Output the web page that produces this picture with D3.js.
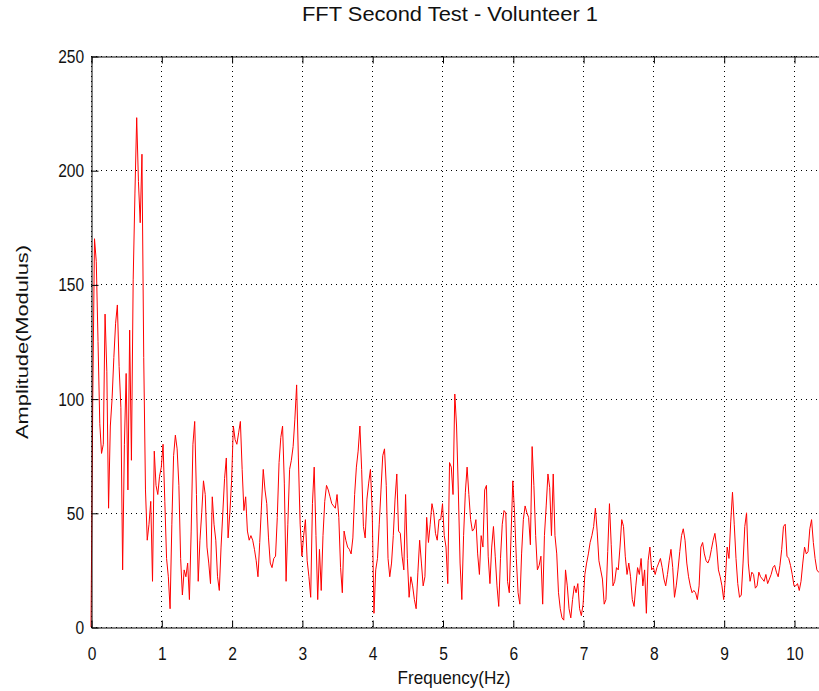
<!DOCTYPE html>
<html>
<head>
<meta charset="utf-8">
<script src="https://cdn.jsdelivr.net/npm/d3@7"></script>
<style>
    body { margin: 0; background: #fff; }
    text { font-family: "Liberation Sans", Arial, sans-serif; fill: #111; }
</style>
</head>
<body>
<div id="chart"></div>
<script>
// FFT bins, one value every 0.025 Hz (one line per Hz)
const freqStep = 0.025;
const amplitude = [
    0, 100, 170, 160, 125, 89, 76, 80, 137, 112, 52, 88, 100, 118, 133, 141, 114, 96, 25, 80, 111, 60, 130, 73, 152, 190, 223, 195, 177, 207, 118, 60, 38, 45, 55, 20, 77, 62, 58, 66,
    70, 80, 55, 30, 22, 8, 45, 75, 84, 78, 62, 30, 14, 25, 22, 28, 12, 42, 80, 90, 58, 20, 38, 50, 64, 58, 35, 28, 19, 57, 45, 38, 22, 16, 35, 50, 65, 74, 39, 50,
    64, 88, 82, 80, 85, 90, 69, 51, 57, 42, 38, 40, 38, 34, 29, 22, 37, 53, 69, 60, 54, 39, 28, 26, 30, 31, 48, 72, 83, 88, 63, 20, 45, 69, 73, 79, 91, 106, 74, 45,
    31, 40, 47, 29, 22, 13, 54, 70, 40, 12, 34, 16, 40, 55, 62, 60, 57, 54, 53, 52, 58, 48, 26, 15, 42, 38, 35, 34, 32, 39, 58, 70, 77, 88, 69, 44, 39, 56, 63, 69,
    51, 6, 25, 30, 45, 60, 75, 78, 62, 30, 22, 28, 40, 56, 67, 42, 41, 31, 25, 58, 30, 13, 22, 18, 12, 8, 24, 38, 28, 18, 22, 48, 37, 45, 54, 50, 41, 38, 47, 47,
    54, 40, 35, 19, 72, 70, 58, 102, 88, 60, 28, 12, 40, 59, 70, 58, 47, 42, 43, 47, 32, 23, 40, 35, 60, 62, 31, 19, 35, 44, 31, 18, 9, 30, 45, 51, 50, 20, 15, 40,
    64, 50, 30, 15, 10, 32, 47, 53, 50, 48, 36, 79, 62, 40, 25, 27, 31, 10, 40, 53, 67, 61, 40, 67, 40, 32, 15, 8, 4, 3, 25, 18, 8, 4, 12, 18, 15, 19, 8, 5,
    10, 23, 28, 32, 37, 40, 44, 52, 42, 29, 25, 21, 10, 12, 33, 54, 36, 18, 20, 26, 25, 35, 47, 44, 31, 23, 28, 22, 12, 9, 18, 26, 23, 30, 18, 25, 6, 29, 35, 25,
    26, 23, 26, 28, 30, 26, 21, 18, 23, 29, 34, 26, 13, 18, 25, 33, 40, 43, 38, 28, 22, 18, 15, 16, 15, 12, 18, 35, 37, 32, 29, 28, 30, 34, 38, 41, 35, 25, 22, 18,
    12, 22, 35, 30, 46, 59, 45, 30, 19, 13, 14, 28, 44, 50, 28, 20, 24, 23, 17, 18, 24, 22, 21, 20, 23, 19, 21, 23, 26, 27, 24, 22, 27, 34, 44, 45, 31, 30, 27, 23,
    18, 18, 19, 16, 20, 28, 35, 32, 33, 43, 47, 37, 30, 25, 24, 24, 22
];
const xTicks = [0, 1, 2, 3, 4, 5, 6, 7, 8, 9, 10];
const yTicks = [0, 50, 100, 150, 200, 250];
const chartTitle = 'FFT Second Test - Volunteer 1';
const xLabel = 'Frequency(Hz)';
const yLabel = 'Amplitude(Modulus)';

const width = 819;
const height = 691;
const plotLeft = 91;
const plotTop = 56;
const plotBottom = 627;
const tickLen = 7;

const svg = d3.select('#chart')
    .append('svg')
        .attr('width', width)
        .attr('height', height)
        .style('display', 'block')
        .style('background', '#fff');

// the axes run past the right edge of the picture, so the box is cut off there
const x = d3.scaleLinear()
    .domain([0, 11])
    .range([plotLeft, plotLeft + 70.3 * 11]);

const y = d3.scaleLinear()
    .domain([0, 250])
    .range([plotBottom, plotTop]);

// dotted grid
const grid = svg.append('g')
    .attr('stroke', '#000')
    .attr('stroke-width', 1)
    .attr('stroke-dasharray', '1,4');

grid.selectAll('.vgrid')
    .data(xTicks)
    .join('line')
        .attr('class', 'vgrid')
        .attr('x1', d => Math.round(x(d)) + 0.5)
        .attr('x2', d => Math.round(x(d)) + 0.5)
        .attr('y1', plotTop)
        .attr('y2', plotBottom);

grid.selectAll('.hgrid')
    .data(yTicks)
    .join('line')
        .attr('class', 'hgrid')
        .attr('x1', plotLeft)
        .attr('x2', width)
        .attr('y1', d => Math.round(y(d)) + 0.5)
        .attr('y2', d => Math.round(y(d)) + 0.5);

// the spectrum
const line = d3.line()
    .x((d, i) => x(i * freqStep))
    .y(d => y(d));

svg.append('path')
    .datum(amplitude)
    .attr('fill', 'none')
    .attr('stroke', '#f00')
    .attr('stroke-width', 1)
    .attr('d', line);

// axes, ticks pointing inward
svg.append('g')
    .attr('transform', `translate(0.5,${plotBottom + 0.5})`)
    .call(d3.axisBottom(x).tickValues(xTicks).tickSizeInner(-tickLen).tickSizeOuter(0).tickPadding(19).tickFormat(d3.format('d')));

svg.append('g')
    .attr('transform', `translate(0.5,${plotTop + 0.5})`)
    .call(d3.axisTop(x).tickValues(xTicks).tickSizeInner(-tickLen).tickSizeOuter(0).tickFormat(''));

svg.append('g')
    .attr('transform', `translate(${plotLeft + 0.5},0.5)`)
    .call(d3.axisLeft(y).tickValues(yTicks).tickSizeInner(-tickLen).tickSizeOuter(0).tickPadding(9).tickFormat(d3.format('d')));

svg.selectAll('.domain, .tick line')
    .attr('stroke', '#000')
    .attr('stroke-width', 1);

// the picture's lettering is tall and narrow
svg.selectAll('.tick text')
    .attr('fill', '#111')
    .attr('transform', 'scale(0.82,1)')
    .style('font-size', '19px');

// title and axis labels
svg.append('text')
    .attr('x', 450)
    .attr('y', 21)
    .attr('text-anchor', 'middle')
    .attr('textLength', 296)
    .attr('lengthAdjust', 'spacingAndGlyphs')
    .style('font-size', '20px')
    .text(chartTitle);

svg.append('text')
    .attr('x', 454)
    .attr('y', 684)
    .attr('text-anchor', 'middle')
    .attr('textLength', 113)
    .attr('lengthAdjust', 'spacingAndGlyphs')
    .style('font-size', '19px')
    .text(xLabel);

svg.append('text')
    .attr('transform', 'translate(28,342) rotate(-90)')
    .attr('text-anchor', 'middle')
    .attr('textLength', 194)
    .attr('lengthAdjust', 'spacingAndGlyphs')
    .style('font-size', '16px')
    .text(yLabel);
</script>
</body>
</html>
